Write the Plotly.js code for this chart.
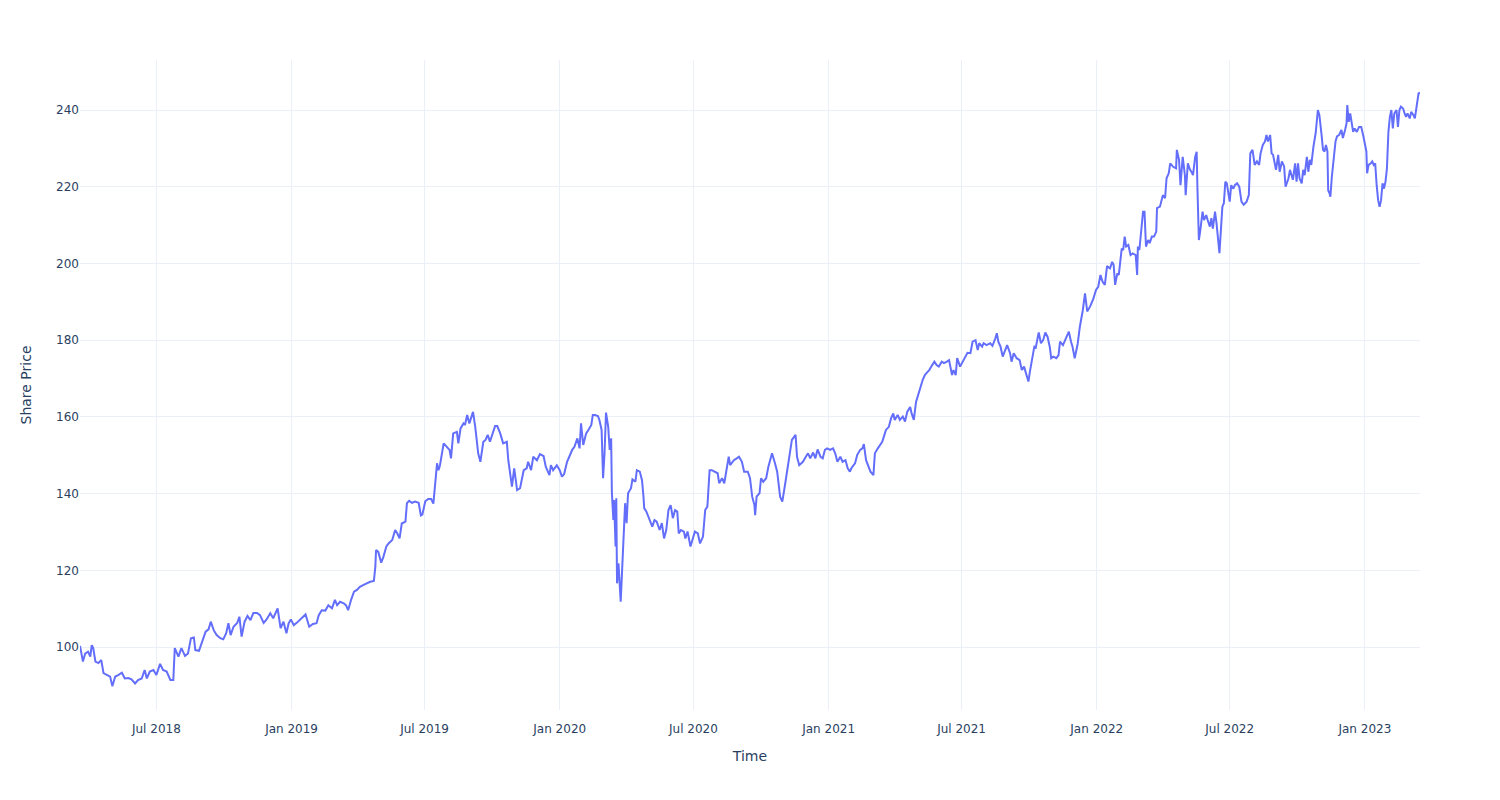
<!DOCTYPE html>
<html>
<head>
<meta charset="utf-8">
<script src="https://cdn.plot.ly/plotly-3.0.1.min.js"></script>
<style>html,body{margin:0;padding:0;background:#fff;}#chart{width:1500px;height:800px;}</style>
</head>
<body>
<div id="chart"></div>
<script>
const d2018 = ['2018-03-19','2018-03-23','2018-03-26','2018-03-30','2018-04-02','2018-04-04','2018-04-06','2018-04-09','2018-04-13','2018-04-17','2018-04-20','2018-04-24','2018-04-29','2018-05-02','2018-05-06','2018-05-10','2018-05-15','2018-05-19','2018-05-24','2018-05-28','2018-06-02','2018-06-06','2018-06-11','2018-06-15','2018-06-18','2018-06-22','2018-06-27','2018-07-01','2018-07-06','2018-07-10','2018-07-15','2018-07-20','2018-07-24','2018-07-26','2018-07-31','2018-08-04','2018-08-09','2018-08-13','2018-08-17','2018-08-21','2018-08-23','2018-08-28','2018-09-01','2018-09-06','2018-09-10','2018-09-13','2018-09-17','2018-09-21','2018-09-26','2018-09-30','2018-10-04','2018-10-07','2018-10-10','2018-10-14','2018-10-19','2018-10-22','2018-10-25','2018-10-29','2018-11-02','2018-11-06','2018-11-10','2018-11-15','2018-11-19','2018-11-24','2018-11-28','2018-12-03','2018-12-07','2018-12-13','2018-12-17','2018-12-21','2018-12-25','2018-12-28','2018-12-31'];
const p2018 = [100.3,96.2,98.3,98.8,97.5,100.5,99.7,96.2,95.8,96.6,93.2,92.7,92.3,89.8,92.3,92.7,93.3,91.8,91.9,91.6,90.5,91.4,91.8,94.0,91.8,93.6,94.0,92.7,95.6,94.0,93.6,91.4,91.4,99.7,97.5,99.7,97.7,98.3,102.3,102.5,99.2,99.0,101.0,104.0,104.6,106.6,104.4,103.1,102.3,102.0,103.6,106.2,103.1,105.3,106.3,107.9,102.7,106.6,108.1,107.0,108.9,108.9,108.3,106.3,107.2,108.8,107.5,110.1,104.9,106.6,103.6,106.2,107.2];

const d2019 = ['2019-01-04','2019-01-08','2019-01-13','2019-01-16','2019-01-20','2019-01-25','2019-01-30','2019-02-04','2019-02-07','2019-02-11','2019-02-16','2019-02-20','2019-02-25','2019-03-01','2019-03-04','2019-03-08','2019-03-13','2019-03-16','2019-03-19','2019-03-23','2019-03-27','2019-03-31','2019-04-04','2019-04-09','2019-04-13','2019-04-18','2019-04-23','2019-04-25','2019-04-26','2019-04-29','2019-05-03','2019-05-06','2019-05-10','2019-05-13','2019-05-18','2019-05-22','2019-05-25','2019-05-28','2019-05-31','2019-06-05','2019-06-07','2019-06-10','2019-06-14','2019-06-18','2019-06-23','2019-06-26','2019-06-28','2019-07-02','2019-07-06','2019-07-10','2019-07-13','2019-07-15','2019-07-18','2019-07-20','2019-07-22','2019-07-27','2019-07-31','2019-08-04','2019-08-06','2019-08-09','2019-08-14','2019-08-16','2019-08-19','2019-08-23','2019-08-25','2019-08-28','2019-08-31','2019-09-05','2019-09-08','2019-09-10','2019-09-12','2019-09-15','2019-09-19','2019-09-22','2019-09-25','2019-09-28','2019-10-01','2019-10-05','2019-10-08','2019-10-12','2019-10-16','2019-10-21','2019-10-23','2019-10-26','2019-10-28','2019-10-31','2019-11-04','2019-11-08','2019-11-13','2019-11-17','2019-11-19','2019-11-23','2019-11-26','2019-12-01','2019-12-05','2019-12-10','2019-12-13','2019-12-18','2019-12-20','2019-12-23','2019-12-28'];
const p2019 = [105.7,106.3,107.2,107.9,108.5,105.3,106.0,106.2,108.3,109.6,109.5,110.9,110.1,112.3,110.9,111.8,111.4,110.9,109.6,112.3,114.4,114.9,115.7,116.2,116.6,117.0,117.2,120.9,125.3,124.8,122.0,123.5,126.2,127.0,127.9,130.5,129.6,128.3,132.2,132.7,137.5,138.1,137.6,137.9,137.6,134.3,134.5,138.0,138.6,138.6,137.4,140.9,147.9,146.1,147.4,153.1,152.2,151.4,149.2,155.7,156.1,153.1,157.0,158.3,157.9,160.5,158.3,161.3,157.4,154.0,150.5,148.3,153.5,154.0,155.3,153.5,155.3,157.6,157.6,155.7,153.1,153.5,148.7,143.5,141.8,146.6,140.9,141.4,146.1,146.6,148.3,146.1,149.6,148.7,150.3,149.8,147.0,144.8,147.4,146.1,147.4];

const d2020 = ['2020-01-01','2020-01-04','2020-01-07','2020-01-11','2020-01-14','2020-01-18','2020-01-21','2020-01-25','2020-01-28','2020-01-30','2020-02-02','2020-02-06','2020-02-09','2020-02-13','2020-02-15','2020-02-18','2020-02-22','2020-02-24','2020-02-27','2020-02-29','2020-03-02','2020-03-04','2020-03-07','2020-03-09','2020-03-11','2020-03-12','2020-03-14','2020-03-15','2020-03-17','2020-03-18','2020-03-19','2020-03-21','2020-03-24','2020-03-26','2020-03-28','2020-03-30','2020-04-01','2020-04-03','2020-04-07','2020-04-09','2020-04-13','2020-04-15','2020-04-19','2020-04-22','2020-04-24','2020-04-25','2020-04-28','2020-05-02','2020-05-06','2020-05-09','2020-05-12','2020-05-16','2020-05-19','2020-05-22','2020-05-25','2020-05-28','2020-05-31','2020-06-03','2020-06-06','2020-06-09','2020-06-11','2020-06-14','2020-06-18','2020-06-20','2020-06-23','2020-06-27','2020-06-30','2020-07-03','2020-07-07','2020-07-10','2020-07-14','2020-07-17','2020-07-20','2020-07-23','2020-07-26','2020-07-31','2020-08-03','2020-08-05','2020-08-09','2020-08-12','2020-08-15','2020-08-18','2020-08-20','2020-08-25','2020-08-29','2020-09-01','2020-09-05','2020-09-08','2020-09-13','2020-09-16','2020-09-19','2020-09-22','2020-09-23','2020-09-25','2020-09-29','2020-10-01','2020-10-04','2020-10-08','2020-10-11','2020-10-16','2020-10-20','2020-10-23','2020-10-27','2020-10-30','2020-11-03','2020-11-06','2020-11-09','2020-11-12','2020-11-17','2020-11-19','2020-11-22','2020-11-27','2020-12-01','2020-12-04','2020-12-07','2020-12-11','2020-12-14','2020-12-17','2020-12-21','2020-12-24','2020-12-27','2020-12-30'];
const p2020 = [146.1,144.4,145.1,148.3,149.6,151.4,152.2,154.4,151.8,158.3,152.7,155.7,156.6,157.9,160.5,160.5,160.2,159.2,156.6,144.0,150.5,161.1,157.4,151.4,154.4,140.1,133.1,138.3,126.2,138.8,116.6,121.8,111.8,120.9,131.4,137.5,132.3,140.1,141.4,143.7,143.1,146.1,145.7,143.5,139.2,136.2,135.3,133.1,131.4,133.1,132.7,130.5,132.3,128.3,130.5,135.7,137.0,133.6,135.7,135.3,129.6,130.5,130.1,128.3,130.1,126.2,127.9,130.1,129.6,127.0,128.8,135.7,136.6,146.1,146.1,145.7,145.3,142.7,144.0,142.7,146.6,149.6,147.4,148.7,149.2,149.6,148.3,145.7,145.7,144.0,139.2,137.0,134.4,139.2,140.1,144.0,143.1,144.0,147.0,150.5,147.9,145.7,139.2,137.9,142.7,146.1,149.6,154.0,155.3,149.6,147.4,148.3,149.6,150.5,149.2,150.7,149.2,151.5,149.6,149.2,151.4,151.8];

const d2021 = ['2021-01-03','2021-01-07','2021-01-10','2021-01-13','2021-01-17','2021-01-20','2021-01-24','2021-01-27','2021-01-30','2021-02-01','2021-02-04','2021-02-06','2021-02-09','2021-02-13','2021-02-16','2021-02-18','2021-02-21','2021-02-24','2021-02-27','2021-03-03','2021-03-05','2021-03-09','2021-03-12','2021-03-15','2021-03-18','2021-03-20','2021-03-24','2021-03-27','2021-03-30','2021-04-01','2021-04-05','2021-04-08','2021-04-12','2021-04-15','2021-04-18','2021-04-22','2021-04-24','2021-04-27','2021-04-30','2021-05-03','2021-05-07','2021-05-09','2021-05-12','2021-05-16','2021-05-18','2021-05-22','2021-05-25','2021-05-28','2021-05-31','2021-06-04','2021-06-07','2021-06-11','2021-06-14','2021-06-18','2021-06-20','2021-06-23','2021-06-25','2021-06-29','2021-07-03','2021-07-06','2021-07-09','2021-07-13','2021-07-16','2021-07-20','2021-07-23','2021-07-25','2021-07-29','2021-07-31','2021-08-04','2021-08-09','2021-08-12','2021-08-16','2021-08-18','2021-08-20','2021-08-23','2021-08-26','2021-08-29','2021-09-01','2021-09-05','2021-09-07','2021-09-10','2021-09-14','2021-09-18','2021-09-21','2021-09-24','2021-09-27','2021-09-30','2021-10-02','2021-10-05','2021-10-08','2021-10-10','2021-10-14','2021-10-17','2021-10-20','2021-10-23','2021-10-26','2021-10-29','2021-10-31','2021-11-03','2021-11-07','2021-11-10','2021-11-12','2021-11-16','2021-11-19','2021-11-21','2021-11-24','2021-11-27','2021-11-29','2021-12-02','2021-12-06','2021-12-09','2021-12-13','2021-12-16','2021-12-19','2021-12-23','2021-12-27','2021-12-31'];
const p2021 = [151.4,151.8,150.5,148.3,149.6,148.3,148.7,146.6,145.7,146.6,147.4,147.9,150.1,151.4,151.8,152.9,148.7,147.0,145.7,144.8,150.5,151.8,152.7,153.5,155.3,156.6,157.4,159.6,160.9,159.2,160.5,159.2,160.1,158.8,161.3,162.6,160.9,159.2,163.9,166.1,168.3,169.6,170.9,171.8,172.2,173.5,174.4,173.5,173.1,174.4,174.0,174.4,174.8,170.9,172.2,170.9,175.3,173.1,174.4,175.7,176.7,176.6,179.6,180.0,177.4,179.2,178.3,179.2,178.7,179.2,178.5,180.5,181.8,179.6,178.3,175.7,177.0,178.7,176.6,174.4,176.6,175.3,174.8,172.2,173.1,171.4,169.2,171.8,174.8,178.3,178.1,182.0,179.2,180.0,182.0,180.9,178.3,175.3,175.7,175.3,176.1,179.6,178.7,180.0,180.9,182.2,179.6,178.3,175.3,179.0,183.5,187.8,192.2,187.5,188.8,190.6,193.1];

const d2022 = ['2022-01-03','2022-01-06','2022-01-09','2022-01-12','2022-01-15','2022-01-19','2022-01-22','2022-01-24','2022-01-26','2022-01-29','2022-01-31','2022-02-04','2022-02-06','2022-02-08','2022-02-10','2022-02-13','2022-02-16','2022-02-19','2022-02-23','2022-02-25','2022-02-26','2022-02-28','2022-03-03','2022-03-05','2022-03-07','2022-03-09','2022-03-12','2022-03-14','2022-03-17','2022-03-20','2022-03-23','2022-03-24','2022-03-28','2022-03-30','2022-04-01','2022-04-04','2022-04-06','2022-04-09','2022-04-11','2022-04-15','2022-04-19','2022-04-20','2022-04-23','2022-04-25','2022-04-28','2022-05-01','2022-05-02','2022-05-05','2022-05-08','2022-05-10','2022-05-12','2022-05-15','2022-05-17','2022-05-18','2022-05-19','2022-05-20','2022-05-22','2022-05-25','2022-05-27','2022-05-30','2022-06-01','2022-06-04','2022-06-06','2022-06-08','2022-06-11','2022-06-13','2022-06-17','2022-06-19','2022-06-21','2022-06-23','2022-06-25','2022-06-27','2022-06-29','2022-07-01','2022-07-03','2022-07-06','2022-07-08','2022-07-11','2022-07-14','2022-07-17','2022-07-20','2022-07-24','2022-07-27','2022-07-29','2022-08-01','2022-08-04','2022-08-07','2022-08-10','2022-08-12','2022-08-15','2022-08-18','2022-08-20','2022-08-22','2022-08-25','2022-08-27','2022-08-29','2022-09-02','2022-09-05','2022-09-07','2022-09-10','2022-09-13','2022-09-15','2022-09-19','2022-09-21','2022-09-25','2022-09-28','2022-09-30','2022-10-02','2022-10-04','2022-10-07','2022-10-09','2022-10-11','2022-10-14','2022-10-16','2022-10-18','2022-10-20','2022-10-23','2022-10-25','2022-10-26','2022-10-29','2022-10-31','2022-11-03','2022-11-05','2022-11-07','2022-11-09','2022-11-11','2022-11-12','2022-11-14','2022-11-15','2022-11-17','2022-11-20','2022-11-22','2022-11-24','2022-11-27','2022-11-30','2022-12-02','2022-12-05','2022-12-07','2022-12-08','2022-12-10','2022-12-12','2022-12-14','2022-12-16','2022-12-18','2022-12-21','2022-12-24','2022-12-27','2022-12-30'];
const p2022 = [193.9,197.0,195.2,194.4,199.3,198.7,200.4,199.6,194.4,197.4,197.0,203.9,203.5,207.0,204.4,204.8,202.2,202.6,202.2,197.0,204.4,203.5,209.6,213.5,213.5,204.4,206.1,205.3,207.0,207.0,208.3,214.4,214.8,216.5,217.8,217.0,222.2,223.5,226.1,225.2,224.8,229.6,227.0,220.4,227.8,223.0,217.8,226.1,224.4,223.9,223.0,227.8,229.1,220.0,207.9,206.1,208.7,213.5,211.3,212.6,211.3,209.6,211.8,209.1,213.5,210.5,202.7,210.5,214.8,215.7,221.3,220.9,218.7,216.1,220.4,219.5,220.4,220.9,220.0,216.1,215.3,216.1,217.8,228.7,229.6,225.7,226.6,225.7,228.7,230.9,231.8,233.5,231.8,233.5,228.7,228.3,224.4,228.3,223.9,226.6,225.3,220.0,222.2,224.4,221.8,226.1,221.3,226.1,222.2,220.9,224.4,223.0,227.8,223.9,227.0,225.7,230.5,233.1,234.0,240.0,238.7,233.5,229.6,229.2,230.9,229.2,219.1,218.2,217.4,222.6,227.8,231.8,233.1,233.5,234.8,232.7,234.8,236.5,241.3,236.9,239.1,236.1,234.3,235.2,234.3,235.6,235.6,233.1];

const d2023 = ['2023-01-01','2023-01-03','2023-01-04','2023-01-06','2023-01-09','2023-01-11','2023-01-13','2023-01-15','2023-01-17','2023-01-19','2023-01-21','2023-01-23','2023-01-25','2023-01-27','2023-01-29','2023-01-31','2023-02-02','2023-02-04','2023-02-06','2023-02-08','2023-02-10','2023-02-13','2023-02-15','2023-02-17','2023-02-19','2023-02-22','2023-02-24','2023-02-26','2023-02-28','2023-03-03','2023-03-05','2023-03-08','2023-03-10','2023-03-12','2023-03-15','2023-03-17'];
const p2023 = [231.4,229.2,223.5,225.7,226.1,226.6,225.7,226.1,220.4,216.5,214.8,216.5,220.9,219.5,221.3,224.8,234.3,238.2,240.0,235.2,239.1,240.0,235.6,240.0,240.9,240.4,239.1,238.2,239.1,237.8,239.5,238.7,237.8,240.0,244.3,244.5];

const xTitle = 'Time';
const yTitle = 'Share Price';

const dates = [].concat(d2018, d2019, d2020, d2021, d2022, d2023);
const prices = [].concat(p2018, p2019, p2020, p2021, p2022, p2023);

const grid = '#EBF0F8';
const trace = {
  x: dates, y: prices, type: 'scatter', mode: 'lines',
  line: {color: '#636efa', width: 2}, name: 'Share Price'
};
const layout = {
  width: 1500, height: 800,
  paper_bgcolor: '#ffffff', plot_bgcolor: '#ffffff',
  font: {family: '"DejaVu Sans", Verdana, sans-serif', size: 12, color: '#2a3f5f'},
  margin: {l: 80, r: 80, t: 60, b: 90},
  showlegend: false,
  xaxis: {
    title: {text: xTitle, font: {size: 14}, standoff: 15},
    type: 'date', range: ['2018-03-19', '2023-03-17'],
    tick0: '2018-01-01', dtick: 'M6', tickformat: '%b %Y',
    ticks: 'outside', ticklen: 8, tickcolor: 'rgba(0,0,0,0)',
    gridcolor: grid, linecolor: grid, zerolinecolor: grid, showline: false
  },
  yaxis: {
    title: {text: yTitle, font: {size: 14}, standoff: 21},
    range: [83.58, 253.04], dtick: 20, tick0: 0,
    gridcolor: grid, linecolor: grid, zerolinecolor: grid, ticks: '', showline: false
  }
};
Plotly.newPlot('chart', [trace], layout, {displayModeBar: false, staticPlot: true});
</script>
</body>
</html>
